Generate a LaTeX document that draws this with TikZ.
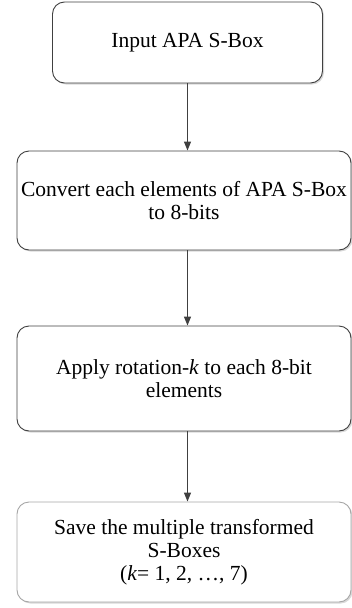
\documentclass[tikz,border=0pt]{standalone}
\usepackage{fontspec}
\setmainfont{Liberation Serif}
\usetikzlibrary{arrows.meta,shadows}

\tikzset{
	stepbox/.style={draw=black!75, line width=0.9pt, rounded corners=12pt, fill=white,
		drop shadow={shadow xshift=1.5pt, shadow yshift=-1.5pt, fill=black!30},
		align=center, font=\fontsize{21.5}{23}\selectfont, inner sep=0pt},
	flow/.style={draw=black!75, line width=1.2pt, -{Triangle[length=9pt,width=7pt]}}
}

\begin{document}
\begin{tikzpicture}[x=1pt, y=-1pt]
		%%%%% START %%%%%
		\useasboundingbox (0, 0) rectangle (352, 608);
		
		\node[stepbox, minimum width=270pt, minimum height=81pt] (input) at (187.5, 42.5) {Input APA S-Box};
		
		\node[stepbox, minimum width=334pt, minimum height=99pt] (convert) at (184, 200.5)
			{Convert each elements of APA S-Box\\to 8-bits};
		
		\node[stepbox, minimum width=334pt, minimum height=105pt] (rotate) at (184, 378.5)
			{Apply rotation-\textit{k} to each 8-bit\\elements};
		
		\node[stepbox, draw=black!35, minimum width=334pt, minimum height=100pt] (save) at (184, 552)
			{Save the multiple transformed\\S-Boxes\\(\textit{k}= 1, 2, \dots, 7)};
		
		\draw[flow] (input.south) -- (input.south |- convert.north);
		\draw[flow] (input.south |- convert.south) -- (input.south |- rotate.north);
		\draw[flow] (input.south |- rotate.south) -- (input.south |- save.north);
		
		%%%%% END %%%%%
	\end{tikzpicture}
\end{document}
